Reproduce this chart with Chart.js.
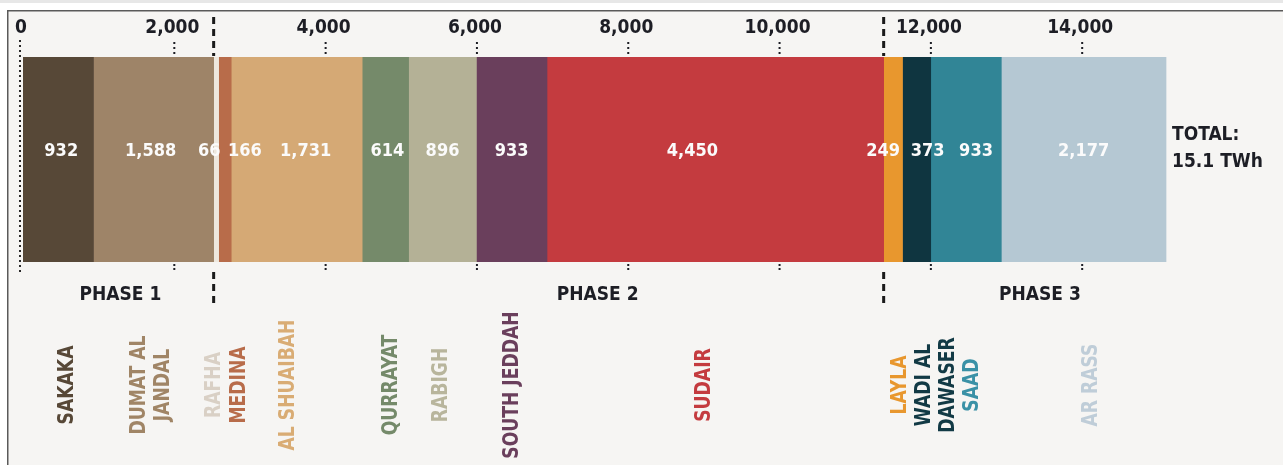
<!DOCTYPE html>
<html lang="en">
<head>
    <meta charset="UTF-8">
    <title>Solar output by plant</title>
    <script src="https://cdn.jsdelivr.net/npm/chart.js@4.4.0/dist/chart.umd.min.js"></script>
    <style>
        body {margin: 0; background: #fff}
        #wrap {width: 1283px; height: 467px}
    </style>
</head>
<body>
    <div id="wrap"><canvas id="chart" width="1283" height="467"></canvas></div>
    <script>
        // annual output per plant, GWh
        const plants = ['SAKAKA', ['DUMAT AL', 'JANDAL'], 'RAFHA', 'MEDINA', 'AL SHUAIBAH', 'QURRAYAT', 'RABIGH',
            'SOUTH JEDDAH', 'SUDAIR', 'LAYLA', ['WADI AL', 'DAWASER'], 'SAAD', 'AR RASS'];
        const output = [932, 1588, 66, 166, 1731, 614, 896, 933, 4450, 249, 373, 933, 2177];
        const phase = [1, 1, 2, 2, 2, 2, 2, 2, 2, 3, 3, 3, 3];
        const phaseNames = ['PHASE 1', 'PHASE 2', 'PHASE 3'];
        const xTicks = [0, 2000, 4000, 6000, 8000, 10000, 12000, 14000];
        const totalLines = ['TOTAL:', '15.1 TWh'];

        const barColours = ['#574837', '#9e8468', '#eee8de', '#b86c4a', '#d5a975', '#758a6a', '#b4b196',
            '#6a3f5c', '#c43b3f', '#e8972e', '#0f3540', '#318596', '#b5c8d3'];
        const nameColours = ['#574837', '#a08566', '#d9d0c5', '#b86c4a', '#d9ac74', '#758a6a', '#b8b59c',
            '#6a3f5c', '#c43b3f', '#e8972e', '#123a45', '#3a91a6', '#bfcdd8'];
        // small pixel shifts so crowded labels don't collide
        const valueShift = [3, -3, -7, 20, 9, 2, 0, 0, -23, -10, 11, 10, 0];
        const nameShift = [8, -3, -3, 14, -9, 5, -2, 0, -12, 6, 19, 6, 7];
        const phaseShift = [2, 49, 15];

        const NUM = '"DejaVu Sans Condensed", "DejaVu Sans", sans-serif';
        const INK = '#1d1e25';

        const datasets = output.map((v, i) => ({
            label: [].concat(plants[i]).join(' '),
            data: [v],
            backgroundColor: barColours[i],
            borderWidth: 0,
            barPercentage: 1,
            categoryPercentage: 1,
            stack: 'all'
        }));

        const sum = arr => arr.reduce((a, b) => a + b, 0);

        const decor = {
            id: 'decor',
            beforeDraw(chart) {
                const ctx = chart.ctx;
                const w = chart.width, h = chart.height;
                ctx.save();
                ctx.fillStyle = '#fff';
                ctx.fillRect(0, 0, w, h);
                ctx.fillStyle = '#e7e7e7';
                ctx.fillRect(0, 0, w, 3);
                ctx.fillStyle = '#f6f5f3';
                ctx.fillRect(8, 11, w - 8, h - 13);
                ctx.fillStyle = '#5a5a5a';
                ctx.fillRect(7, 10, w - 7, 1.5);
                ctx.fillRect(7, 10, 1.5, h - 12);
                ctx.restore();
            },
            beforeDatasetsDraw(chart) {
                const ctx = chart.ctx;
                const x = chart.scales.x.getPixelForValue(0) - 3;
                ctx.save();
                ctx.fillStyle = '#2a2a2a';
                for (let y = 40; y <= 270; y += 5) ctx.fillRect(x - 1, y, 2, 2);
                ctx.restore();
            },
            afterDatasetsDraw(chart) {
                const ctx = chart.ctx;
                const xs = chart.scales.x;
                const area = chart.chartArea;
                ctx.save();

                // tick labels along the top, dotted tick marks above and below the bar
                ctx.fillStyle = INK;
                ctx.font = 'bold 19px ' + NUM;
                ctx.textAlign = 'center';
                ctx.textBaseline = 'middle';
                xTicks.forEach(v => {
                    const x = xs.getPixelForValue(v);
                    ctx.fillText(v.toLocaleString('en-US'), x - 2, 28);
                    if (v === 0) return;
                    [42, 47, 52].forEach(y => ctx.fillRect(x - 1, y, 2, 2));
                    [area.bottom + 2, area.bottom + 6].forEach(y => ctx.fillRect(x - 1, y, 2, 2));
                });

                // values inside each segment
                let start = 0;
                const mids = output.map(v => { const m = start + v / 2; start += v; return m; });
                ctx.fillStyle = '#fbfbfb';
                ctx.font = 'bold 18px ' + NUM;
                output.forEach((v, i) => {
                    ctx.fillText(v.toLocaleString('en-US'), xs.getPixelForValue(mids[i]) + valueShift[i], 151);
                });

                // dashed phase dividers
                ctx.strokeStyle = '#1a1a1a';
                ctx.lineWidth = 3;
                ctx.setLineDash([7, 5]);
                const bounds = [0];
                for (let p = 1; p <= phaseNames.length; p++) {
                    bounds.push(sum(output.filter((v, i) => phase[i] <= p)));
                }
                bounds.slice(1, -1).forEach(b => {
                    const x = xs.getPixelForValue(b);
                    ctx.beginPath(); ctx.moveTo(x, 17); ctx.lineTo(x, 56); ctx.stroke();
                    ctx.beginPath(); ctx.moveTo(x, 272); ctx.lineTo(x, 304); ctx.stroke();
                });
                ctx.setLineDash([]);

                ctx.fillStyle = INK;
                ctx.font = 'bold 19px ' + NUM;
                phaseNames.forEach((name, p) => {
                    const x = (xs.getPixelForValue(bounds[p]) + xs.getPixelForValue(bounds[p + 1])) / 2;
                    ctx.fillText(name, x + phaseShift[p], 295);
                });

                // total to the right of the bar
                ctx.textAlign = 'left';
                const tx = xs.getPixelForValue(sum(output)) + 6;
                totalLines.forEach((t, k) => ctx.fillText(t, tx, 135 + k * 27));

                // plant names, rotated and squeezed a little
                ctx.font = 'bold 21px ' + NUM;
                ctx.textAlign = 'center';
                plants.forEach((name, i) => {
                    const lines = [].concat(name);
                    const cx = xs.getPixelForValue(mids[i]) + nameShift[i];
                    ctx.fillStyle = nameColours[i];
                    lines.forEach((line, k) => {
                        const x = cx + (k - (lines.length - 1) / 2) * 24;
                        ctx.save();
                        ctx.translate(x, 385);
                        ctx.rotate(-Math.PI / 2);
                        ctx.scale(0.91, 1);
                        ctx.fillText(line, 0, 1);
                        ctx.restore();
                    });
                });

                ctx.restore();
            }
        };

        new Chart(document.getElementById('chart'), {
            type: 'bar',
            data: {labels: [''], datasets: datasets},
            options: {
                indexAxis: 'y',
                responsive: false,
                animation: false,
                layout: {padding: {left: 23, right: 49.5, top: 57, bottom: 205}},
                scales: {
                    x: {display: false, stacked: true, min: 0, max: 16000},
                    y: {display: false, stacked: true}
                },
                plugins: {legend: {display: false}, tooltip: {enabled: false}}
            },
            plugins: [decor]
        });
    </script>
</body>
</html>
